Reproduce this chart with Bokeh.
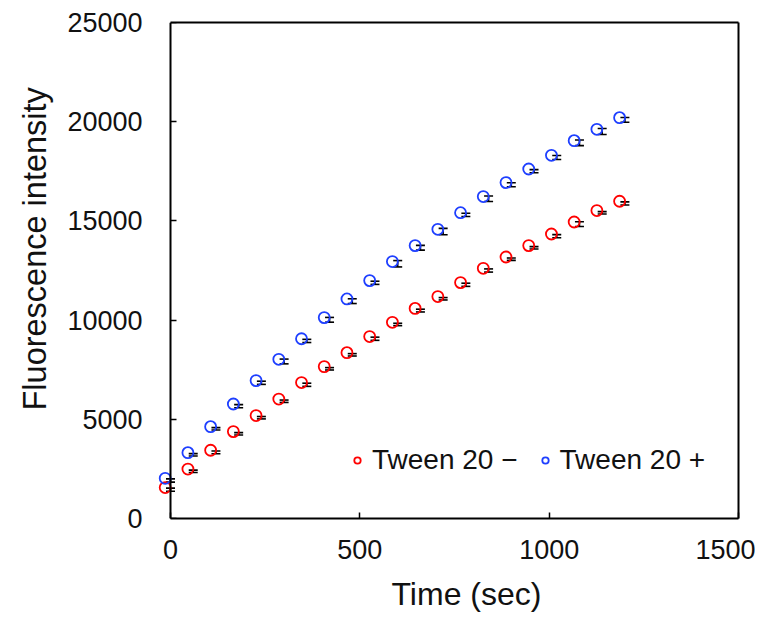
from bokeh.plotting import figure
from bokeh.models import (ColumnDataSource, Whisker, TeeHead, Legend, LegendItem, Range1d,
                          LinearAxis, Title)
from bokeh.transform import dodge
from bokeh.embed import file_html
from bokeh.resources import INLINE

time_sec = [0, 60, 120, 180, 240, 300, 360, 420, 480, 540, 600, 660, 720,
            780, 840, 900, 960, 1020, 1080, 1140, 1200]

tween_minus = [1450, 2380, 3330, 4270, 5080, 5910, 6740, 7545, 8250, 9060, 9780,
               10480, 11075, 11780, 12500, 13070, 13645, 14230, 14835, 15410, 15880]
tween_minus_err = [80, 60, 70, 60, 60, 60, 80, 60, 60, 80, 60,
                   70, 60, 80, 80, 60, 60, 80, 120, 60, 80]

tween_plus = [1915, 3210, 4520, 5660, 6840, 7915, 8950, 10015, 10955, 11880, 12840,
              13645, 14465, 15305, 16115, 16820, 17505, 18195, 18935, 19505, 20095]
tween_plus_err = [80, 60, 60, 80, 80, 120, 80, 120, 120, 80, 160,
                  120, 160, 80, 140, 100, 80, 100, 140, 150, 120]

labels = ["Tween 20 \u2212", "Tween 20 +"]
colors = ["#FF0000", "#1E3FFF"]
x_title = "Time (sec)"
y_title = "Fluorescence intensity"
x_ticks = [0, 500, 1000, 1500]
y_ticks = [0, 5000, 10000, 15000, 20000, 25000]

# rendering offsets of the markers relative to the error bar centres (as in the original)
MARKER_DX = -14
MARKER_DY = 110

FONT = "Liberation Sans"

# the frame extends a little left of x=0 so the first markers are not clipped;
# the visible y axis line is drawn at x=0
PAD_PX = 13
FRAME_W = 568
X_START = -1500 * PAD_PX / FRAME_W

p = figure(width=755, height=626, output_backend="svg", toolbar_location=None,
           x_range=Range1d(X_START, 1500), y_range=Range1d(0, 25000),
           min_border_left=170 - PAD_PX, min_border_right=17, min_border_top=22,
           min_border_bottom=108, x_axis_location=None, y_axis_location=None)
p.outline_line_color = None
p.xgrid.visible = False
p.ygrid.visible = False
p.background_fill_color = "white"
p.border_fill_color = "white"


def style_axis(ax, show_line=True, show_labels=True, show_ticks=True):
    ax.axis_line_width = 2
    ax.axis_line_color = "black" if show_line else None
    ax.major_tick_in = 6 if show_ticks else 0
    ax.major_tick_out = 0
    ax.major_tick_line_width = 1.5
    ax.major_tick_line_color = "black" if show_ticks else None
    ax.minor_tick_line_color = None
    ax.major_label_text_font = FONT
    ax.major_label_text_font_size = "27px"
    ax.major_label_text_color = "#111111" if show_labels else None


xb = LinearAxis(ticker=x_ticks, bounds=(0, 1500))
style_axis(xb)
xb.major_label_standoff = 21
p.add_layout(xb, "below")

# y tick labels (in the left panel)
yl = LinearAxis(ticker=y_ticks)
style_axis(yl, show_line=False, show_ticks=False)
yl.major_label_standoff = 28 - PAD_PX
p.add_layout(yl, "left")

# y axis line and ticks at x = 0
y0 = LinearAxis(ticker=y_ticks, fixed_location=0)
style_axis(y0, show_labels=False)
p.add_layout(y0, "left")

xt = LinearAxis(ticker=x_ticks, bounds=(0, 1500))
style_axis(xt, show_labels=False, show_ticks=False)
p.add_layout(xt, "above")

yr = LinearAxis(ticker=y_ticks)
style_axis(yr, show_labels=False, show_ticks=False)
p.add_layout(yr, "right")

# axis titles (slightly off-centre as in the original)
p.add_layout(Title(text=x_title, align="left", offset=234, standoff=24,
                   text_font=FONT, text_font_size="32px", text_font_style="normal",
                   text_color="#111111"), "below")
p.add_layout(Title(text=y_title, align="left", offset=108, standoff=24,
                   text_font=FONT, text_font_size="32.5px", text_font_style="normal",
                   text_color="#111111"), "left")

items = []
for lab, col, ys, errs in [(labels[0], colors[0], tween_minus, tween_minus_err),
                           (labels[1], colors[1], tween_plus, tween_plus_err)]:
    src = ColumnDataSource(data=dict(
        x=time_sec, y=ys,
        upper=[a + b for a, b in zip(ys, errs)],
        lower=[a - b for a, b in zip(ys, errs)],
    ))
    w = Whisker(source=src, base="x", upper="upper", lower="lower",
                line_color="black", line_width=1.6,
                upper_head=TeeHead(size=9, line_color="black", line_width=1.6),
                lower_head=TeeHead(size=9, line_color="black", line_width=1.6))
    p.add_layout(w)
    r = p.scatter(x=dodge("x", MARKER_DX), y=dodge("y", MARKER_DY), source=src,
                  marker="circle", size=11, fill_color=None, line_color=col, line_width=1.8)
    items.append(LegendItem(label=lab, renderers=[r]))

legend = Legend(items=items, orientation="horizontal", location=(179 + PAD_PX, 42),
                label_text_font=FONT, label_text_font_size="28px", label_text_color="#111111",
                background_fill_alpha=0, border_line_color=None,
                glyph_width=16, glyph_height=20, spacing=19, label_standoff=7,
                padding=0, margin=0)
p.add_layout(legend, "center")

open("out.html", "w").write(file_html(p, INLINE))
